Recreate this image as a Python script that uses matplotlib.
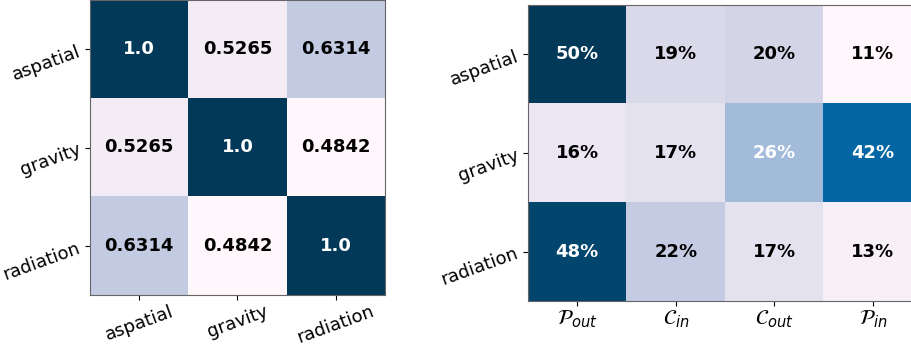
import numpy as np
import matplotlib
matplotlib.use("Agg")
import matplotlib.pyplot as plt

models = ["aspatial", "gravity", "radiation"]
similarity = [
    [1.0, 0.5265, 0.6314],
    [0.5265, 1.0, 0.4842],
    [0.6314, 0.4842, 1.0],
]
components = [r"$\mathcal{P}_{out}$", r"$\mathcal{C}_{in}$",
              r"$\mathcal{C}_{out}$", r"$\mathcal{P}_{in}$"]
shares = [
    [50, 19, 20, 11],
    [16, 17, 26, 42],
    [48, 22, 17, 13],
]

fig = plt.figure(figsize=(9.12, 3.45), dpi=100)

def heatmap(ax, data, xlabels, ylabels, fmt, threshold):
    data = np.asarray(data, dtype=float)
    ax.imshow(data, cmap="PuBu", vmin=data.min(), vmax=data.max(), aspect="auto")
    ax.set_xticks(range(len(xlabels)))
    ax.set_yticks(range(len(ylabels)))
    ax.set_xticklabels(xlabels)
    ax.set_yticklabels(ylabels, rotation=20, fontsize=13)
    ax.tick_params(axis="y", pad=1.5)
    ax.tick_params(axis="x", pad=2)
    for s in ax.spines.values():
        s.set_color("#666666")
    for i in range(data.shape[0]):
        for j in range(data.shape[1]):
            v = data[i, j]
            ax.text(j, i, fmt(v), ha="center", va="center", fontsize=13,
                    fontweight="bold",
                    color="white" if v > threshold else "black")

ax1 = fig.add_axes([90 / 912, 50 / 345, 295 / 912, 295 / 345])
heatmap(ax1, similarity, models, models, lambda v: f"{v:g}" if v != 1 else "1.0", 0.8)
for lbl in ax1.get_xticklabels():
    lbl.set_rotation(20)
    lbl.set_fontsize(13)

ax2 = fig.add_axes([528 / 912, 44 / 345, 394 / 912, 296 / 345])
heatmap(ax2, shares, components, models, lambda v: f"{v:.0f}%", 24)
for lbl in ax2.get_xticklabels():
    lbl.set_fontsize(15)

fig.savefig("out.png", dpi=100)
